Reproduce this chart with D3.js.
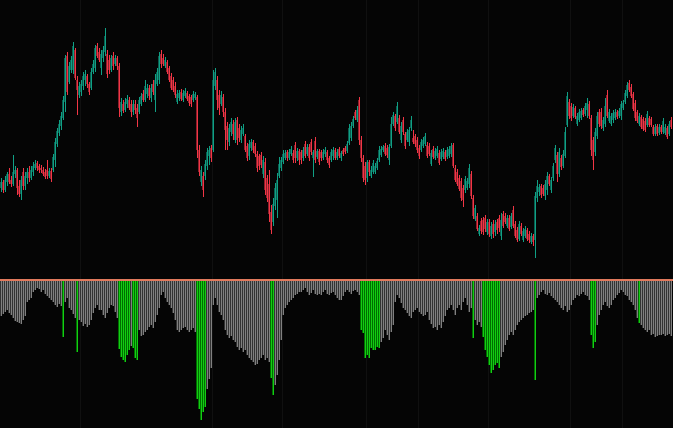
<!DOCTYPE html>
<html>
<head>
<meta charset="utf-8">
<script src="https://cdn.jsdelivr.net/npm/d3@7"></script>
<style>
  html, body { margin: 0; padding: 0; background: #050505; overflow: hidden; }
</style>
</head>
<body>
<script>
// candle prices, one entry per bar
const opens = [
  112,118,110,118,126,120,116,126,130,114, 106,128,114,122,128,122,128,132,137,134,
  132,130,128,130,124,129,130,140,156,167, 174,182,198,244,218,230,230,250,220,205,
  208,214,220,224,216,212,228,232,254,248, 232,242,248,246,240,230,244,236,242,234,
  188,196,190,196,200,196,188,196,192,188, 196,206,200,206,212,202,216,200,216,220,
  246,242,234,238,232,224,220,214,198,202, 208,200,204,207,204,203,200,202,203,150,
  118,124,124,134,144,152,150,214,220,205, 196,203,188,174,158,168,176,160,180,172,
  160,166,164,154,144,152,158,154,146,144, 145,126,138,122,116,88,78,94,100,124,
  132,138,142,148,142,146,147,155,142,149, 148,142,156,146,153,158,142,159,143,149,
  148,142,146,148,142,140,144,150,142,151, 142,150,152,149,157,162,174,188,180,200,
  160,142,134,122,138,124,128,128,132,140, 145,150,154,152,140,154,176,184,178,182,
  160,180,166,160,158,172,162,164,160,152, 150,154,156,155,154,136,151,142,144,147,
  141,143,148,143,144,146,155,132,128,122, 119,112,110,112,116,126,102,81,84,66,
  79,80,82,68,78,64,76,68,78,82, 64,86,84,74,82,73,90,76,70,61,
  74,60,64,70,66,58,64,60,102,108, 114,112,104,110,124,110,122,140,145,126,
  142,134,144,175,198,194,184,192,176,180, 182,190,186,190,196,182,160,148,164,188,
  188,172,176,205,179,176,180,182,188,184, 184,192,198,204,217,213,206,197,188,176,
  183,181,179,175,182,181,173,166,174,167, 173,168,167,172,166,180
]
const highs = [
  122,120,124,128,132,124,145,134,132,120, 124,132,128,132,134,134,138,140,139,136,
  135,133,131,140,132,132,146,162,172,180, 188,204,245,248,238,244,258,252,224,218,
  220,228,230,226,218,232,240,255,257,252, 250,254,272,250,245,245,248,245,244,237,
  202,200,202,205,203,200,200,200,196,203, 207,210,220,216,215,216,220,226,232,248,
  250,246,243,240,234,227,223,218,210,210, 211,210,212,209,206,205,209,208,205,155,
  134,128,140,152,154,155,230,232,224,210, 209,206,192,178,176,182,180,182,183,176,
  174,176,166,157,160,161,160,157,149,146, 148,144,142,125,130,95,102,117,127,143,
  143,150,150,150,151,154,150,158,152,151, 150,153,159,156,156,161,150,163,151,151,
  150,151,153,150,144,151,153,152,151,153, 149,152,154,159,176,178,184,190,194,203,
  164,145,138,140,140,134,140,137,142,154, 154,155,157,155,156,183,188,186,198,185,
  178,183,168,171,173,184,170,166,163,155, 161,163,167,158,157,150,154,152,154,150,
  151,152,150,153,154,157,157,135,131,125, 122,115,124,122,136,129,105,95,87,75,
  82,83,85,81,81,78,80,80,81,85, 87,89,87,85,85,87,94,79,73,79,
  77,72,74,72,69,67,66,108,120,116, 116,115,120,128,126,123,137,155,148,152,
  145,150,173,208,201,197,196,194,187,191, 192,192,197,202,199,185,163,172,188,191,
  192,183,202,210,191,187,190,191,190,192, 199,200,210,218,220,216,208,200,190,187,
  185,183,182,189,184,183,175,176,176,176, 175,182,176,174,179,183
]
const lows = [
  108,107,108,114,116,113,114,122,105,103, 100,110,110,116,118,120,124,130,129,127,
  127,124,121,121,122,118,128,133,153,164, 170,180,188,205,216,227,226,220,185,202,
  204,210,214,212,205,210,226,228,242,238, 225,238,244,222,226,228,230,234,230,183,
  184,187,188,192,190,183,185,186,173,186, 194,198,198,202,200,198,205,188,214,216,
  232,234,232,226,218,210,208,202,196,199, 199,198,202,199,194,193,198,200,142,124,
  114,103,120,130,135,138,148,210,190,185, 194,183,150,150,154,164,160,157,155,158,
  157,164,148,139,140,149,147,143,128,130, 132,122,105,98,78,66,74,90,82,122,
  129,136,140,139,140,144,137,137,139,135, 136,139,142,144,139,145,123,137,141,135,
  139,140,143,137,132,138,140,140,140,142, 139,144,146,147,155,159,172,180,178,155,
  138,118,115,118,124,122,126,126,130,138, 143,148,144,142,135,152,174,169,176,166,
  157,165,151,158,154,169,156,153,147,141, 148,152,154,142,144,134,141,140,142,135,
  139,141,139,141,142,143,132,118,114,109, 99,93,107,110,112,101,81,79,69,64,
  66,65,68,65,63,61,62,64,66,68, 60,72,76,72,69,71,72,62,58,59,
  64,58,62,59,57,56,54,42,98,104, 102,104,100,105,114,107,119,137,118,123,
  130,132,142,173,181,179,182,181,174,178, 180,183,184,182,181,144,130,144,161,173,
  171,169,173,182,177,174,177,180,181,182, 180,190,196,202,208,202,189,179,177,174,
  171,169,168,173,173,173,164,164,164,165, 166,166,165,161,164,171
]
const closes = [
  118,110,120,126,118,116,128,130,112,106, 120,114,124,128,122,130,134,136,132,130,
  130,126,123,124,129,121,143,158,169,176, 184,200,242,208,234,240,254,222,210,214,
  216,224,226,216,208,228,236,252,244,240, 246,250,264,226,230,242,234,242,234,192,
  198,189,198,201,192,188,196,190,182,200, 204,200,214,212,204,212,208,220,228,244,
  236,236,240,228,220,212,210,205,206,207, 201,207,209,201,197,196,206,206,150,128,
  130,110,136,148,150,142,220,228,200,192, 205,188,170,160,172,178,166,178,160,162,
  170,172,150,142,156,158,150,146,132,134, 135,140,110,102,86,70,96,112,120,136,
  140,146,147,142,148,151,140,142,149,140, 140,150,144,153,142,148,148,140,149,138,
  142,148,150,140,135,148,150,142,148,144, 147,146,148,156,172,174,181,182,190,160,
  142,122,120,138,128,130,137,134,139,150, 151,153,146,145,153,176,185,172,194,168,
  174,168,154,168,170,180,158,156,150,144, 158,160,164,144,146,147,143,149,151,137,
  148,149,141,150,151,154,134,120,116,111, 102,100,121,119,132,104,84,92,71,72,
  69,68,71,78,66,74,66,76,70,72, 80,74,78,82,71,84,74,64,60,76,
  66,69,71,61,60,64,58,104,114,113, 105,106,116,124,116,120,134,152,126,148,
  133,146,168,204,184,182,193,183,184,188, 189,185,194,197,184,150,140,168,184,176,
  174,180,194,184,188,184,187,188,183,189, 196,197,207,215,210,204,191,182,179,184,
  173,171,170,186,175,175,166,173,166,173, 168,179,173,163,176,173
]

// lower panel histogram (drawn downward from the zero line)
const osc = [
  36,34,32,30,33,35,38,41,42,43, 44,40,36,22,20,18,12,10,8,9,
  12,10,14,16,18,20,22,25,27,24, 26,57,22,18,28,30,34,38,72,40,
  42,46,44,47,45,40,33,28,25,30, 30,35,38,33,28,25,26,32,38,69,
  77,80,82,75,70,66,68,78,80,50, 56,55,52,50,47,45,48,42,35,28,
  15,12,18,22,25,28,33,40,50,52, 50,48,47,50,52,50,48,52,119,129,
  140,132,127,109,99,88,25,18,25,32, 35,40,50,55,58,56,60,62,67,70,
  68,72,70,75,78,80,82,85,84,80, 78,75,80,78,82,98,115,105,95,80,
  60,35,28,25,22,20,18,15,14,12, 12,10,8,12,15,13,10,14,15,14,
  15,12,10,14,15,13,12,15,18,20, 20,16,12,10,12,14,11,10,12,15,
  50,53,78,75,78,68,70,70,67,68, 62,58,50,55,60,52,45,22,15,18,
  23,28,30,33,36,38,32,30,28,32, 34,36,35,32,40,44,48,47,50,45,
  48,42,36,30,28,25,30,35,28,25, 30,22,18,25,32,28,58,40,45,42,
  47,57,70,77,85,93,90,85,83,88, 77,72,65,60,55,52,55,50,45,42,
  40,38,36,35,33,32,30,100,18,15, 12,10,14,15,13,16,18,20,22,25,
  28,30,26,32,30,25,20,18,15,16, 14,12,15,16,20,55,68,62,45,35,
  30,25,22,26,28,25,20,18,15,13, 10,12,15,16,20,22,25,30,38,43,
  45,48,50,52,50,55,54,57,56,55, 55,54,56,55,54,56
]
const oscGreen = [31,38,59,60,61,62,63,64,66,67,68,98,99,100,101,102,135,136,
  180,181,182,183,184,185,186,187,188,189,236,241,242,243,244,245,246,247,248,249,
  267,295,296,297,319]

// bars where a session separator line is drawn
const sessionBreaks = [40,106,141,183,209,244,285,311]

const width = 673
const height = 428
const pitch = 2
const n = closes.length
const zeroY = 280

const x = d3.scaleBand()
  .domain(d3.range(n))
  .range([0, n*pitch])
  .padding(0)

const y = d3.scaleLinear()
  .domain([20,300])
  .range([280,0])

const yOsc = d3.scaleLinear()
  .domain([0,150])
  .range([zeroY, zeroY+150])

const svg = d3.select("body")
  .append("svg")
  .attr("width",width)
  .attr("height",height)
  .style("display","block")
  .attr("shape-rendering","crispEdges")

svg.append("rect")
  .attr("width",width)
  .attr("height",height)
  .attr("fill","#050505")

svg.selectAll(".sep")
  .data(sessionBreaks)
  .enter()
  .append("rect")
  .attr("class","sep")
  .attr("x",d=>x(d))
  .attr("y",0)
  .attr("width",1)
  .attr("height",height)
  .attr("fill","#101010")

const candles = d3.range(n).map(i=>({i:i, o:opens[i], h:highs[i], l:lows[i], c:closes[i]}))

const up = d=>d.c>=d.o

// bodies (darker) then wicks (bright) on top
svg.selectAll(".body")
  .data(candles)
  .enter()
  .append("rect")
  .attr("class","body")
  .attr("x",d=>x(d.i))
  .attr("width",x.bandwidth())
  .attr("y",d=>y(Math.max(d.o,d.c)))
  .attr("height",d=>Math.max(1,Math.abs(y(d.o)-y(d.c))))
  .attr("fill",d=>up(d) ? "#0b5e50" : "#8c1f2d")

svg.selectAll(".wick")
  .data(candles)
  .enter()
  .append("rect")
  .attr("class","wick")
  .attr("x",d=>x(d.i)+1)
  .attr("width",1)
  .attr("y",d=>y(d.h))
  .attr("height",d=>Math.max(1,y(d.l)-y(d.h)))
  .attr("fill",d=>up(d) ? "#10a085" : "#f23645")

// histogram
const greenSet = new Set(oscGreen)
const bars = osc.map((v,i)=>({i:i, v:v, g:greenSet.has(i)}))

svg.selectAll(".hbar")
  .data(bars)
  .enter()
  .append("rect")
  .attr("class","hbar")
  .attr("x",d=>x(d.i))
  .attr("width",x.bandwidth())
  .attr("y",zeroY)
  .attr("height",d=>yOsc(d.v)-zeroY)
  .attr("fill",d=>d.g ? "#006e00" : "#333333")

svg.selectAll(".hline")
  .data(bars)
  .enter()
  .append("rect")
  .attr("class","hline")
  .attr("x",d=>x(d.i)+1)
  .attr("width",1)
  .attr("y",zeroY)
  .attr("height",d=>yOsc(d.v)-zeroY)
  .attr("fill",d=>d.g ? "#14cc14" : "#808080")

svg.append("rect")
  .attr("x",0)
  .attr("y",zeroY-1)
  .attr("width",width)
  .attr("height",2)
  .attr("fill","#e0795c")
</script>
</body>
</html>
